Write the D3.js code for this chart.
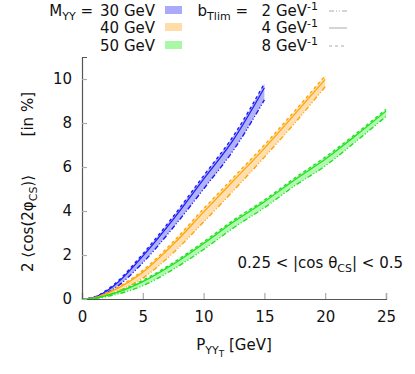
<!doctype html>
<html lang="en">
<head>
<meta charset="utf-8"/>
<title>cos 2phi asymmetry</title>
<style>
  body { margin: 0; background: #fff; }
  text { font-family: "DejaVu Sans", sans-serif; fill: #111; }
</style>
<script src="https://d3js.org/d3.v7.min.js"></script>
</head>
<body>
<svg width="415" height="374"></svg>
<script>

    // transverse momentum grid (GeV)
    var pt = [0, 1, 2.5, 5, 7.5, 10, 12.5, 15, 17.5, 20, 22.5, 25];

    // 2<cos 2phi> in %, per mass, for bTlim = 2, 4, 8 GeV^-1
    var m30_b2 = [0, 0.05, 0.42, 1.65, 3.25, 5.0, 6.8, 9.05];
    var m30_b4 = [0, 0.08, 0.55, 1.95, 3.62, 5.45, 7.28, 9.6];
    var m30_b8 = [0, 0.09, 0.6, 2.05, 3.75, 5.6, 7.45, 9.8];

    var m40_b2 = [0, 0.03, 0.27, 0.95, 2.1, 3.5, 4.95, 6.45, 8.0, 9.65];
    var m40_b4 = [0, 0.05, 0.37, 1.22, 2.48, 3.95, 5.4, 6.85, 8.4, 9.98];
    var m40_b8 = [0, 0.06, 0.4, 1.3, 2.6, 4.1, 5.55, 7.0, 8.55, 10.15];

    var m50_b2 = [0, 0.02, 0.17, 0.6, 1.35, 2.25, 3.25, 4.15, 5.15, 6.05, 7.15, 8.3];
    var m50_b4 = [0, 0.035, 0.23, 0.79, 1.58, 2.52, 3.52, 4.42, 5.42, 6.35, 7.42, 8.54];
    var m50_b8 = [0, 0.04, 0.25, 0.85, 1.65, 2.6, 3.6, 4.5, 5.5, 6.45, 7.5, 8.62];

    var xTicks = [0, 5, 10, 15, 20, 25];
    var yTicks = [0, 2, 4, 6, 8, 10];

    var masses = [
        {label: "30 GeV", line: "#1a1aff", fill: "#aaaaf8", b2: m30_b2, b4: m30_b4, b8: m30_b8},
        {label: "40 GeV", line: "#ffa500", fill: "#ffdca8", b2: m40_b2, b4: m40_b4, b8: m40_b8},
        {label: "50 GeV", line: "#1ee01e", fill: "#a8f8a8", b2: m50_b2, b4: m50_b4, b8: m50_b8}
    ];

    var styles = [
        {key: "b2", label: "2 GeV", dash: "5,2,1,2,1,2"},
        {key: "b4", label: "4 GeV", dash: null},
        {key: "b8", label: "8 GeV", dash: "3,3"}
    ];

    var svg = d3.select("svg");
    var pLeft = 82, pRight = 386, pTop = 57, pBottom = 299;
    var fs = 15;

    var x = d3.scaleLinear().domain([0, 25]).range([pLeft, pRight]);
    var y = d3.scaleLinear().domain([0, 11]).range([pBottom, pTop]);

    // bands and lines
    masses.forEach(function(m) {
        var rows = m.b2.map(function(v, i) {
            return {x: pt[i], b2: v, b4: m.b4[i], b8: m.b8[i]};
        });
        var area = d3.area()
            .x(function(d) { return x(d.x); })
            .y0(function(d) { return y(d.b2); })
            .y1(function(d) { return y(d.b8); })
            .curve(d3.curveMonotoneX);
        svg.append("path")
           .datum(rows)
           .attr("d", area)
           .attr("fill", m.fill)
           .attr("opacity", 0.9);

        styles.forEach(function(s) {
            var line = d3.line()
                .x(function(d) { return x(d.x); })
                .y(function(d) { return y(d[s.key]); })
                .curve(d3.curveMonotoneX);
            svg.append("path")
               .datum(rows)
               .attr("d", line)
               .attr("fill", "none")
               .attr("stroke", m.line)
               .attr("stroke-width", s.key == "b4" ? 1.2 : 1.4)
               .attr("stroke-dasharray", s.dash);
        });
    });

    // axes
    var gx = svg.append("g")
        .attr("transform", "translate(0," + pBottom + ")")
        .call(d3.axisBottom(x).tickValues(xTicks).tickSize(-6).tickPadding(12));
    var gy = svg.append("g")
        .attr("transform", "translate(" + pLeft + ",0)")
        .call(d3.axisLeft(y).tickValues(yTicks).tickSize(-5).tickPadding(10));

    [gx, gy].forEach(function(g) {
        g.select(".domain").attr("stroke", "#555").attr("stroke-width", 1.2);
        g.selectAll(".tick line").attr("stroke", "#aaa").attr("stroke-width", 1.2);
        g.selectAll(".tick text").attr("font-size", fs).attr("fill", "#111")
         .attr("font-family", "DejaVu Sans, sans-serif");
    });

    // axis titles
    var xl = svg.append("text")
        .attr("x", 234).attr("y", 350)
        .attr("text-anchor", "middle")
        .attr("font-size", fs);
    xl.append("tspan").text("P");
    xl.append("tspan").attr("font-size", 11).attr("dy", 4).text("YY");
    xl.append("tspan").attr("font-size", 9).attr("dy", 3).text("T");
    xl.append("tspan").attr("dy", -7).text(" [GeV]");

    var yl = svg.append("text")
        .attr("transform", "translate(33,272) rotate(-90)")
        .attr("text-anchor", "start")
        .attr("font-size", fs);
    yl.append("tspan").text("2 \u27E8cos(2\u03C6");
    yl.append("tspan").attr("font-size", 11).attr("dy", 4).text("CS");
    yl.append("tspan").attr("dy", -4).text(")\u27E9");

    svg.append("text")
        .attr("transform", "translate(33,92) rotate(-90)")
        .attr("text-anchor", "end")
        .attr("font-size", fs)
        .text("[in %]");

    // cut annotation
    var ann = svg.append("text")
        .attr("x", 403).attr("y", 268)
        .attr("text-anchor", "end")
        .attr("font-size", fs);
    ann.append("tspan").text("0.25 < |cos \u03B8");
    ann.append("tspan").attr("font-size", 11).attr("dy", 4).text("CS");
    ann.append("tspan").attr("dy", -4).text("| < 0.5");

    // legend: masses
    var rowY = [16, 33, 51];
    masses.forEach(function(m, i) {
        svg.append("text")
           .attr("x", 155).attr("y", rowY[i])
           .attr("text-anchor", "end")
           .attr("font-size", fs)
           .text(m.label);
        svg.append("rect")
           .attr("x", 165).attr("y", rowY[i] - 10)
           .attr("width", 17).attr("height", 8)
           .attr("fill", m.fill);
    });
    var ml = svg.append("text")
        .attr("x", 93).attr("y", rowY[0])
        .attr("text-anchor", "end")
        .attr("font-size", fs);
    ml.append("tspan").text("M");
    ml.append("tspan").attr("font-size", 11).attr("dy", 4).text("YY");
    ml.append("tspan").attr("dy", -4).text(" =");

    // legend: bTlim
    styles.forEach(function(s, i) {
        var t = svg.append("text")
           .attr("x", 318).attr("y", rowY[i])
           .attr("text-anchor", "end")
           .attr("font-size", fs);
        t.append("tspan").text(s.label);
        t.append("tspan").attr("font-size", 11).attr("dy", -6).text("-1");
        svg.append("line")
           .attr("x1", 329).attr("x2", 347)
           .attr("y1", rowY[i] - 5).attr("y2", rowY[i] - 5)
           .attr("stroke", "#aaa")
           .attr("stroke-width", 1)
           .attr("stroke-dasharray", s.dash);
    });
    var bl = svg.append("text")
        .attr("x", 248).attr("y", rowY[0])
        .attr("text-anchor", "end")
        .attr("font-size", fs);
    bl.append("tspan").text("b");
    bl.append("tspan").attr("font-size", 11).attr("dy", 4).text("Tlim");
    bl.append("tspan").attr("dy", -4).text(" =");

</script>
</body>
</html>
